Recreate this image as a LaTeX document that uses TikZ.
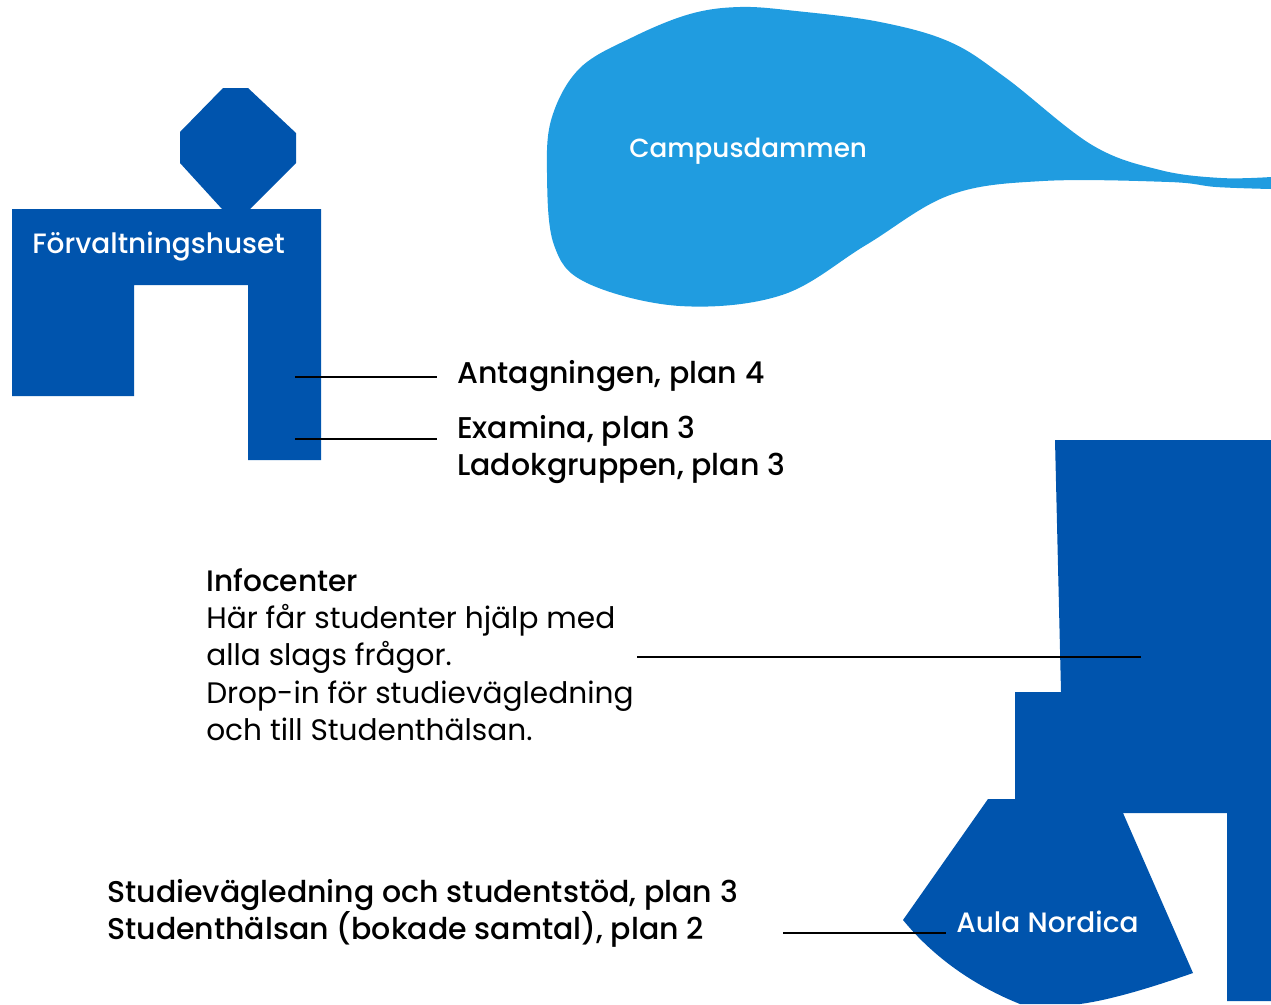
\documentclass[tikz,border=0pt]{standalone}
\usepackage{fontspec}
\setmainfont{Poppins}[BoldFont={Poppins Medium}]
\definecolor{bldg}{HTML}{0054AD}
\definecolor{water}{HTML}{209CE0}
\newcommand{\labfont}{\fontsize{22.2}{28}\selectfont}
\newcommand{\boldlabfont}{\fontsize{22.5}{28}\selectfont\bfseries}
\tikzset{
 bldgshape/.style={fill=bldg,draw=none},
 lead/.style={draw=black,line width=1pt},
 whitelab/.style={text=white,anchor=west,inner sep=0,font=\fontsize{21}{28}\selectfont\bfseries},
 lab/.style={text=black,anchor=north west,inner sep=0,align=left,font=\labfont},
 blab/.style={lab,font=\boldlabfont},
}
\begin{document}
\begin{tikzpicture}[x=0.75pt,y=-0.75pt]
\useasboundingbox (0,0) rectangle (1271,1004);
\fill[water] plot[smooth,tension=0.6] coordinates {(1271,177) (1221,178) (1160,170) (1092,145) (1006,78) (950,42) (880,22) (796,11) (740,7) (690,14) (633,37) (580,68) (552,117) (547,173) (554,245) (587,283) (680,306) (782,295) (866,245) (950,195) (1043,181) (1169,182) (1216,187) (1271,189)} -- cycle;
\fill[bldgshape] (223,88) -- (248,88) -- (296,133) -- (296,163) -- (250,209) -- (321,209) -- (321,460) -- (248,460) -- (248,285) -- (134,285) -- (134,396) -- (12,396) -- (12,209) -- (222,209) -- (180,163) -- (180,132) -- cycle;
\fill[bldgshape] (1055,440) -- (1271,440) -- (1271,1001) -- (1227,1001) -- (1227,813) -- (1123,813) -- (1193,973) .. controls (1150,988) and (1110,1000) .. (1080,1004) -- (1020,1004) .. controls (985,990) and (940,965) .. (903,920) -- (988,799) -- (1015,799) -- (1015,692) -- (1061,692) -- cycle;
\node[whitelab,font=\fontsize{19.7}{28}\selectfont\bfseries] (campus) at (629,151) {Campusdammen};
\node[whitelab] (forv) at (32,247) {Förvaltningshuset};
\node[whitelab] (aula) at (956,922) {Aula Nordica};
\node[blab] (ant) at (457,360) {Antagningen, plan 4};
\node[blab] (exa) at (457,415) {Examina, plan 3\\Ladokgruppen, plan 3};
\node[lab] (info) at (206,568) {\textbf{Infocenter}\\Här får studenter hjälp med\\alla slags frågor.\\Drop-in för studievägledning\\och till Studenthälsan.};
\node[blab] (stud) at (107,879) {Studievägledning och studentstöd, plan 3\\Studenthälsan (bokade samtal), plan 2};
\coordinate (a1) at (295,377);\coordinate (a2) at (437,377);
\coordinate (e1) at (295,439);\coordinate (e2) at (437,439);
\coordinate (i1) at (637,657);\coordinate (i2) at (1141,657);
\coordinate (s1) at (783,933);\coordinate (s2) at (946,933);
\draw[lead] (a1)--(a2);
\draw[lead] (e1)--(e2);
\draw[lead] (i1)--(i2);
\draw[lead] (s1)--(s2);
\end{tikzpicture}
\end{document}
